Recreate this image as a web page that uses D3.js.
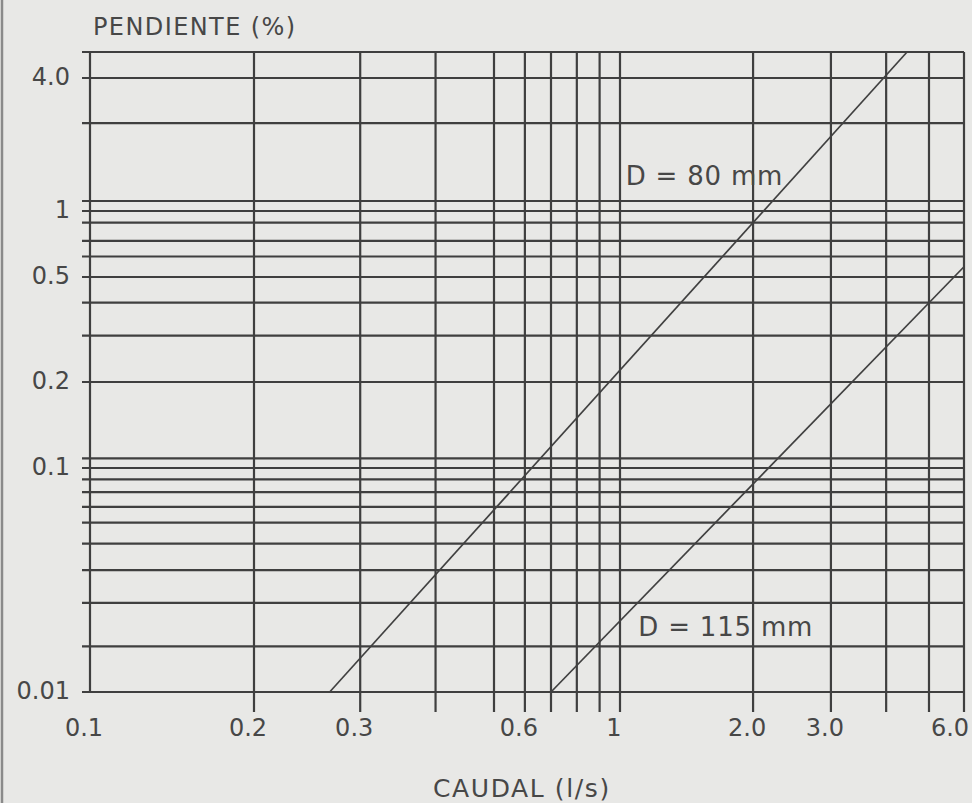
<!DOCTYPE html>
<html>
<head>
<meta charset="utf-8">
<script src="https://cdn.jsdelivr.net/npm/d3@7"></script>
<style>
  html, body { margin: 0; padding: 0; background: #e8e8e6; }
  svg { display: block; }
  text { font-family: "DejaVu Sans", sans-serif; fill: #474747; }
</style>
</head>
<body>
<svg id="chart" width="972" height="803"></svg>
<script>
// ---- data ----
const xKnots = [0.1, 0.2, 0.5, 0.7, 1, 6];                 // caudal values anchoring the (hand-drawn) log axis
const xGridValues = [0.1, 0.2, 0.3, 0.4, 0.5, 0.6, 0.7, 0.8, 0.9, 1, 2, 3, 4, 5, 6];
const xTickValues = [0.1, 0.2, 0.3, 0.6, 1, 2, 3, 6];
const xTickLabels = ["0.1", "0.2", "0.3", "0.6", "1", "2.0", "3.0", "6.0"];

const yKnots = [0.01, 0.1, 0.2, 0.5, 1, 4, 5.2];             // pendiente values anchoring the log axis
const yGridValues = [0.01, 0.016, 0.025, 0.035, 0.046, 0.057, 0.067, 0.078, 0.089, 0.1, 0.108,
                     0.2, 0.3, 0.4, 0.5, 0.62, 0.73, 0.885, 1, 1.11, 2.5, 4, 5.2];
const yTickValues = [0.01, 0.1, 0.2, 0.5, 1, 4];
const yTickLabels = ["0.01", "0.1", "0.2", "0.5", "1", "4.0"];

const seriesNames = ["D = 80 mm", "D = 115 mm"];
const seriesQ = [[0.267, 4.46], [0.70, 6.0]];      // caudal (l/s) at line ends
const seriesS = [[0.01, 5.2], [0.01, 0.557]];      // pendiente (%) at line ends
const labelQ = [1.03, 1.1];
const labelS = [1.31, 0.0177];

const xTitle = "CAUDAL (l/s)";
const yTitle = "PENDIENTE (%)";

// ---- layout ----
const svg = d3.select("#chart");
const W = 972, H = 803;
const L = 90, R = 964, T = 52, B = 692;

const x = d3.scaleLog().domain(xKnots).range([L, 254, 494, 551, 620, R]);
const y = d3.scaleLog().domain(yKnots).range([B, 468, 382, 277, 211, 78, T]);

const lineColor = "#3f3f3f";

// left page edge line of the scan
svg.append("line").attr("x1", 2).attr("x2", 2).attr("y1", 0).attr("y2", H)
  .attr("stroke", "#8a8a8a").attr("stroke-width", 2.5);

// horizontal grid lines (with ticks extending left)
svg.append("g").selectAll("line").data(yGridValues).join("line")
  .attr("x1", L - 8).attr("x2", R)
  .attr("y1", d => y(d)).attr("y2", d => y(d))
  .attr("stroke", lineColor).attr("stroke-width", 2.2);

// vertical grid lines (with ticks extending down, except the left frame)
svg.append("g").selectAll("line").data(xGridValues).join("line")
  .attr("x1", d => x(d)).attr("x2", d => x(d))
  .attr("y1", T).attr("y2", (d, i) => i === 0 ? B : B + 20)
  .attr("stroke", lineColor).attr("stroke-width", 2.2);

// diameter lines
const line = d3.line().x(d => x(d[0])).y(d => y(d[1]));
seriesQ.forEach((qs, i) => {
  const pts = qs.map((q, j) => [q, seriesS[i][j]]);
  svg.append("path").attr("d", line(pts))
    .attr("fill", "none").attr("stroke", "#404040").attr("stroke-width", 1.7);
  svg.append("text")
    .attr("x", x(labelQ[i])).attr("y", y(labelS[i]))
    .attr("font-size", 26).attr("letter-spacing", 0.8)
    .text(seriesNames[i]);
});

// y tick labels
svg.append("g").selectAll("text").data(yTickValues).join("text")
  .attr("x", 70).attr("y", d => y(d)).attr("dy", "0.3em")
  .attr("text-anchor", "end").attr("font-size", 24)
  .text((d, i) => yTickLabels[i]);

// x tick labels (kept inside the page on the right)
svg.append("g").selectAll("text").data(xTickValues).join("text")
  .attr("x", d => Math.min(x(d) - 6, W - 22)).attr("y", 736)
  .attr("text-anchor", "middle").attr("font-size", 24)
  .text((d, i) => xTickLabels[i]);

// axis titles
svg.append("text").attr("x", 93).attr("y", 35)
  .attr("font-size", 24).attr("letter-spacing", 1.4).text(yTitle);
svg.append("text").attr("x", 433).attr("y", 797)
  .attr("font-size", 25).attr("letter-spacing", 1.6).text(xTitle);
</script>
</body>
</html>
